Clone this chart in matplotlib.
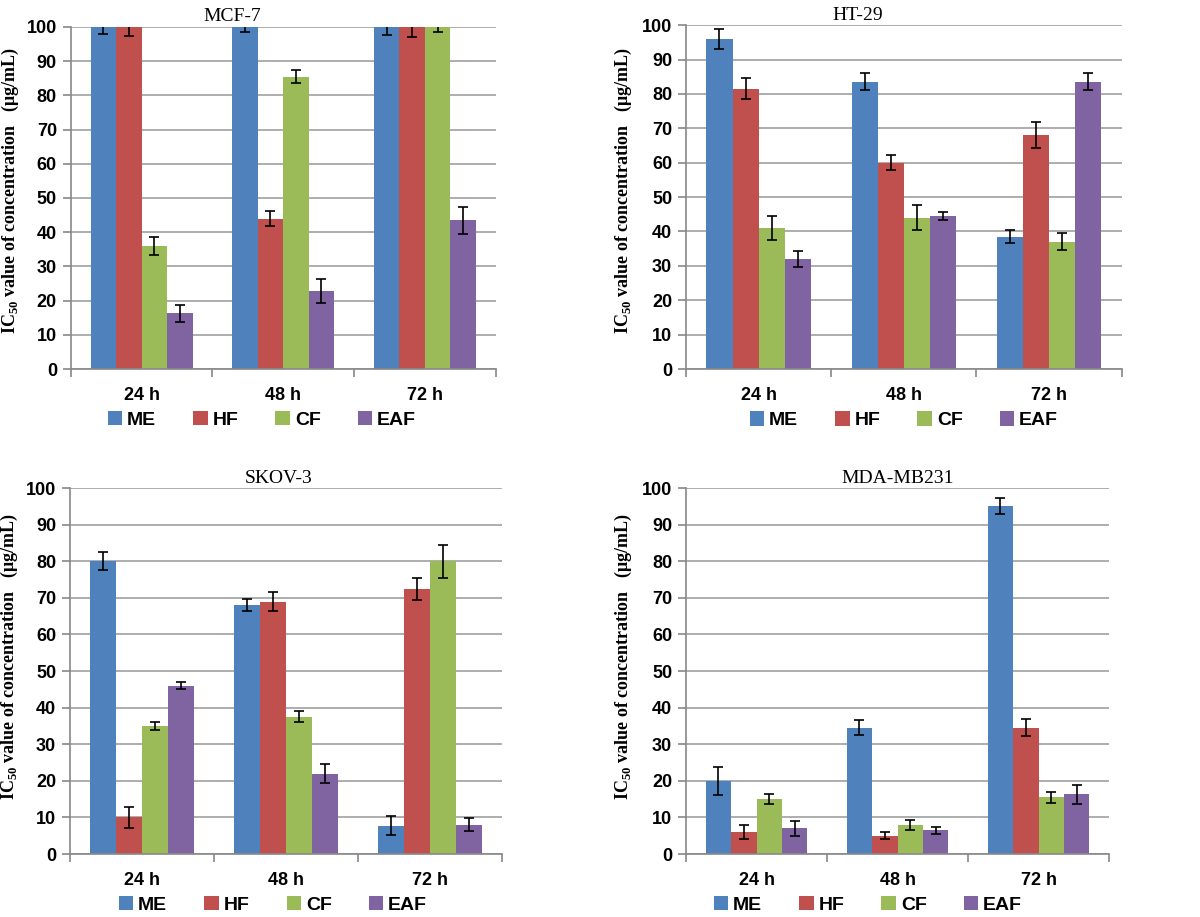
import matplotlib.pyplot as plt
import numpy as np

plt.rcParams['mathtext.fontset'] = 'custom'
plt.rcParams['mathtext.rm'] = 'Liberation Serif'
plt.rcParams['mathtext.bf'] = 'Liberation Serif:bold'

# Data
times = ['24 h', '48 h', '72 h']
extracts = ['ME', 'HF', 'CF', 'EAF']
colors = ['#4F81BD', '#C0504D', '#9BBB59', '#8064A2']

mcf7 = [[100, 100, 100], [100, 44, 100], [36, 85.5, 100], [16.3, 22.8, 43.5]]
mcf7_err = [[2, 1.5, 2.3], [2.5, 2.3, 3], [2.6, 1.8, 1.5], [2.5, 3.4, 4]]

ht29 = [[96, 83.5, 38.5], [81.5, 60, 68], [41, 44, 37], [32, 44.5, 83.5]]
ht29_err = [[2.8, 2.5, 1.8], [3, 2.2, 3.7], [3.5, 3.7, 2.5], [2.4, 1.3, 2.5]]

skov3 = [[80, 68, 7.7], [10, 69, 72.3], [35, 37.5, 80], [46, 22, 8]]
skov3_err = [[2.5, 1.7, 2.6], [2.8, 2.6, 3], [1.2, 1.5, 4.5], [1, 2.5, 1.8]]

mda = [[20, 34.5, 95], [6, 5, 34.5], [15, 8, 15.5], [7, 6.5, 16.3]]
mda_err = [[3.8, 2, 2.2], [2, 1, 2.3], [1.3, 1.4, 1.5], [2, 1, 2.5]]

# title, values, errors, axes rect, legend anchor, ylabel position, title x
panels = [
    ('MCF-7', mcf7, mcf7_err, [0.059, 0.5976, 0.354, 0.373], (0.45, -0.149), (-0.117, 0.52), 0.38),
    ('HT-29', ht29, ht29_err, [0.5717, 0.5976, 0.363, 0.375], (0.5, -0.149), (-0.12, 0.52), 0.393),
    ('SKOV-3', skov3, skov3_err, [0.0583, 0.0687, 0.360, 0.399], (0.47, -0.139), (-0.116, 0.54), 0.484),
    ('MDA-MB231', mda, mda_err, [0.5717, 0.0687, 0.3525, 0.399], (0.43, -0.139), (-0.124, 0.54), 0.5),
]

fig = plt.figure(figsize=(12, 9.17), dpi=100)

x = np.arange(len(times))
w = 0.18

for title, vals, errs, pos, leg_at, lab_at, title_x in panels:
    ax = fig.add_axes(pos)
    for i, name in enumerate(extracts):
        ax.bar(x + (i - 1.5) * w, vals[i], w, color=colors[i], label=name, zorder=2,
               yerr=errs[i], error_kw=dict(ecolor='black', elinewidth=1.2, capsize=3.5, capthick=1.2))
    ax.set_xlim(-0.5, 2.5)
    ax.set_ylim(0, 100)
    ax.set_yticks(range(0, 101, 10))
    ax.yaxis.grid(True, color='#A0A0A0', linewidth=1.2, zorder=0)
    ax.set_axisbelow(True)
    ax.set_xticks(x)
    ax.set_xticklabels(times, fontsize=13, fontweight='bold', family='Liberation Sans')
    ax.set_xticks([-0.5, 0.5, 1.5, 2.5], minor=True)
    ax.tick_params(axis='x', which='major', length=0, pad=13)
    ax.tick_params(axis='x', which='minor', length=6, color='#888888', width=1.2)
    ax.tick_params(axis='y', length=6, color='#888888', width=1.2, labelsize=13, pad=4)
    for lab in ax.get_yticklabels():
        lab.set_fontweight('bold')
        lab.set_family('Liberation Sans')
    for s in ['top', 'right']:
        ax.spines[s].set_visible(False)
    for s in ['left', 'bottom']:
        ax.spines[s].set_color('#888888')
        ax.spines[s].set_linewidth(1.2)
    ax.set_title(title, family='Liberation Serif', fontsize=14, pad=4, x=title_x)
    ax.set_ylabel(r'IC$_{\mathbf{50}}$ value of concentration   ($\mathbf{\mu}$g/mL)',
                  family='Liberation Serif', fontweight='bold', fontsize=13)
    ax.yaxis.set_label_coords(*lab_at)
    ax.legend(loc='center', bbox_to_anchor=leg_at, ncol=4, frameon=False, borderpad=0,
              handlelength=0.75, handleheight=0.75, handletextpad=0.25, columnspacing=1.9,
              prop=dict(family='Liberation Sans', weight='bold', size=14))

fig.savefig('out.png', dpi=100)
